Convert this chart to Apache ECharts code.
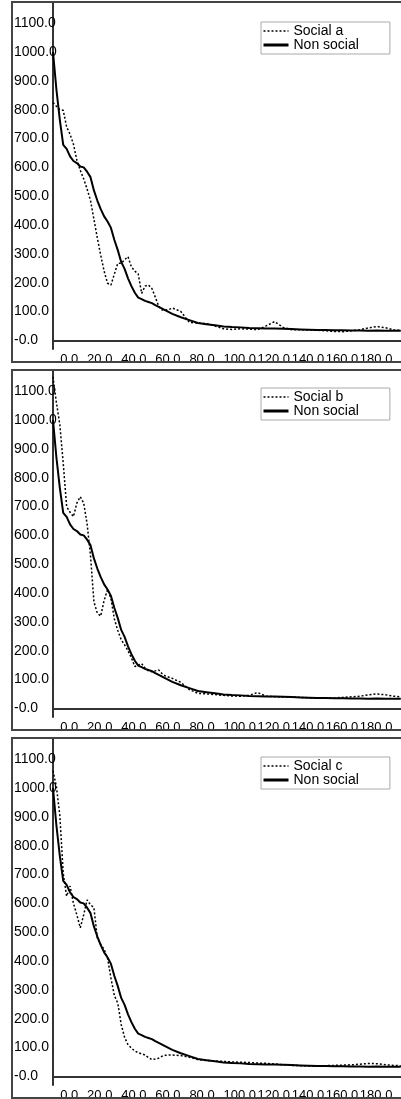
<!DOCTYPE html>
<html>
<head>
<meta charset="utf-8">
<script src="https://cdn.jsdelivr.net/npm/echarts@6.0.0/dist/echarts.min.js"></script>
<style>
  html, body { margin: 0; padding: 0; background: #fff; }
  #chart { width: 401px; height: 1099px; }
</style>
</head>
<body>
<div id="chart"></div>
<script>
// x positions (time steps) shared by every curve
const xValues = [
  0, 2, 4, 6, 8, 10, 12, 14, 16, 18, 20, 22, 24, 26, 28, 30, 32, 34, 36, 38,
  40, 42, 44, 46, 48, 50, 52, 54, 56, 58, 60, 62, 64, 66, 68, 70,
  75, 80, 85, 90, 95, 100, 105, 110, 115, 120, 125, 130, 135, 140, 145, 150,
  155, 160, 165, 170, 175, 180, 185, 190, 195, 200, 204
];
const nonSocial = [
  1000, 870, 765, 678, 664, 638, 622, 615, 603, 600, 585, 566, 520, 485, 455, 430, 412, 390, 348, 313,
  272, 248, 215, 188, 165, 148, 143, 137, 133, 129, 122, 116, 110, 104, 98, 92,
  80, 70, 60, 56, 52, 48, 46, 45, 43, 42, 41, 41, 40, 39, 38, 37,
  36, 36, 35, 35, 34, 34, 33, 34, 33, 33, 33
];
const socialA = [
  825, 812, 800, 798, 740, 715, 680, 625, 590, 560, 525, 485, 420, 355, 295, 240, 198, 192, 230, 267,
  267, 280, 290, 255, 240, 230, 163, 188, 192, 180, 150, 118, 105, 105, 107, 112,
  100, 62, 60, 58, 50, 40, 38, 40, 39, 37, 50, 65, 45, 37, 37, 36,
  35, 33, 31, 30, 33, 37, 43, 48, 44, 36, 35
];
const socialB = [
  1150, 1060, 985, 850, 700, 680, 665, 712, 734, 712, 640, 530, 370, 330, 320, 375, 412, 380, 310, 270,
  238, 220, 200, 175, 145, 150, 155, 140, 130, 127, 130, 133, 120, 112, 108, 104,
  90, 65, 52, 50, 48, 45, 43, 42, 45, 55, 42, 40, 39, 40, 38, 37,
  35, 35, 36, 38, 40, 42, 47, 50, 47, 42, 40
];
const socialC = [
  1060, 1005, 905, 704, 625, 660, 600, 560, 515, 560, 612, 595, 585, 480, 458, 440, 410, 340, 280, 254,
  180, 135, 110, 98, 88, 82, 78, 74, 65, 58, 60, 63, 70, 73, 74, 74,
  72, 66, 58, 55, 53, 52, 50, 49, 48, 46, 45, 43, 40, 38, 37, 36,
  36, 37, 38, 39, 40, 42, 45, 44, 40, 38, 37
];
const socialNames = ["Social a", "Social b", "Social c"];
const socialSeries = [socialA, socialB, socialC];
const yTicks = [0, 100, 200, 300, 400, 500, 600, 700, 800, 900, 1000, 1100];
const xTicks = [0, 20, 40, 60, 80, 100, 120, 140, 160, 180];

const fontFamily = "'Liberation Sans', Arial, sans-serif";
const panelStep = 368;
const legendTops = [22, 388, 757];

const toPairs = (vals) => xValues.map((x, i) => [x, vals[i]]);

const grids = [];
const xAxes = [];
const yAxes = [];
const legends = [];
const series = [];
const frames = [];

for (let p = 0; p < 3; p++) {
  grids.push({
    left: 53,
    top: 3 + p * panelStep,
    width: 358,
    height: 346,
    outerBoundsMode: "none",
    containLabel: false,
  });
  xAxes.push({
    type: "value",
    gridIndex: p,
    min: 0,
    max: 210,
    axisLine: { lineStyle: { color: "#333", width: 2 } },
    axisTick: { show: false },
    splitLine: { show: false },
    axisLabel: {
      customValues: xTicks,
      align: "left",
      margin: 4,
      hideOverlap: false,
      showMinLabel: true,
      showMaxLabel: true,
      color: "#000",
      fontSize: 13,
      fontFamily: fontFamily,
      formatter: (v) => (v === 0 ? "  0.0" : v.toFixed(1)),
    },
  });
  yAxes.push({
    type: "value",
    gridIndex: p,
    min: -30,
    max: 1170,
    axisLine: { show: true, lineStyle: { color: "#333", width: 2 } },
    axisTick: { show: false },
    splitLine: { show: false },
    axisLabel: {
      customValues: yTicks,
      align: "left",
      margin: 39,
      showMinLabel: true,
      showMaxLabel: true,
      color: "#000",
      fontSize: 14,
      fontFamily: fontFamily,
      formatter: (v) => (v === 0 ? "-0.0" : v.toFixed(1)),
    },
  });
  legends.push({
    left: 261,
    top: legendTops[p],
    orient: "vertical",
    itemGap: 0,
    itemWidth: 25,
    itemHeight: 14,
    padding: [2, 31, 2, 1],
    borderColor: "#aaa",
    borderWidth: 1,
    backgroundColor: "#fff",
    selectedMode: false,
    textStyle: { color: "#000", fontSize: 14, lineHeight: 14, fontFamily: fontFamily },
    data: [
      {
        name: socialNames[p],
        itemStyle: { opacity: 0 },
        lineStyle: { color: "#000", width: 1.5, type: [2, 2] },
      },
      {
        name: "Non social",
        itemStyle: { opacity: 0 },
        lineStyle: { color: "#000", width: 3 },
      },
    ],
  });
  series.push({
    name: "Non social",
    type: "line",
    xAxisIndex: p,
    yAxisIndex: p,
    symbol: "none",
    color: "#000",
    lineStyle: { color: "#000", width: 2 },
    data: toPairs(nonSocial),
  });
  series.push({
    name: socialNames[p],
    type: "line",
    xAxisIndex: p,
    yAxisIndex: p,
    symbol: "none",
    color: "#000",
    lineStyle: { color: "#000", width: 1.5, type: [2, 2] },
    data: toPairs(socialSeries[p]),
  });
  frames.push({
    type: "rect",
    z: 100,
    silent: true,
    shape: { x: 12, y: 2 + p * panelStep, width: 410, height: 360 },
    style: { fill: "none", stroke: "#444", lineWidth: 2 },
  });
}

const option = {
  animation: false,
  backgroundColor: "#fff",
  grid: grids,
  xAxis: xAxes,
  yAxis: yAxes,
  legend: legends,
  series: series,
  graphic: frames,
};

const chart = echarts.init(document.getElementById("chart"), null, { renderer: "canvas" });
chart.setOption(option);
</script>
</body>
</html>
